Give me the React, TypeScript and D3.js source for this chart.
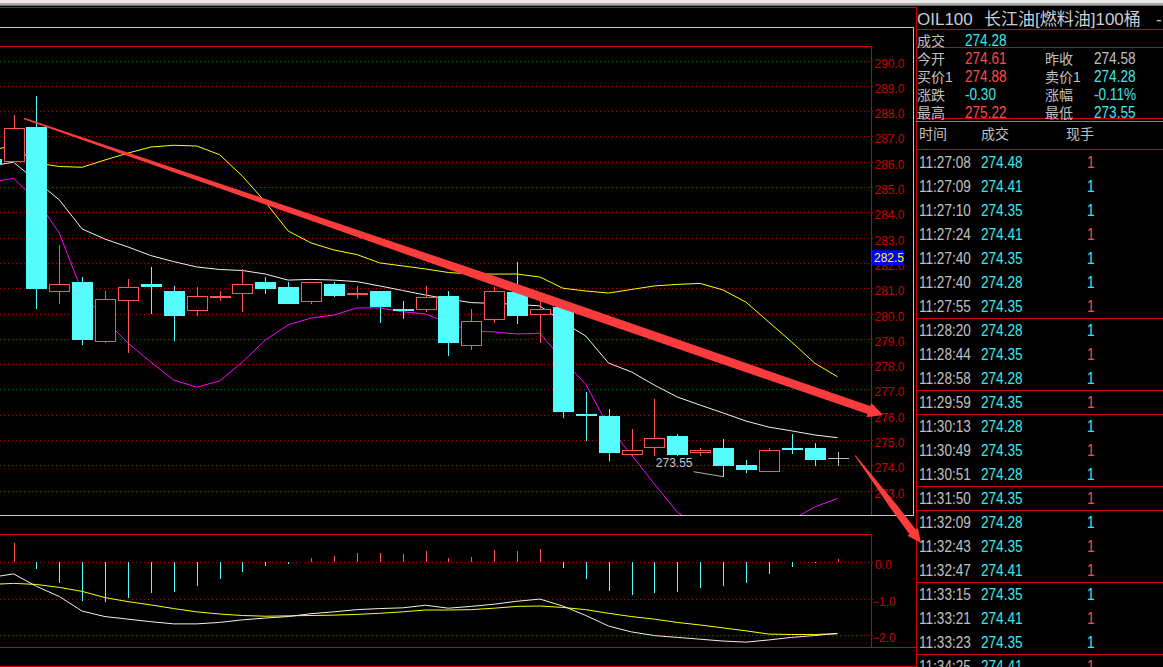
import React from "react";
import * as d3 from "d3";

// ---------- data ----------
const candleIndex = d3.range(-1, 37);
const opens = [286.11, 286.02, 287.37, 280.90, 281.25, 278.92, 280.52, 281.17, 280.89, 280.13, 280.66, 280.80, 281.25, 281.05, 280.51, 281.17, 280.80, 280.89, 280.19, 280.19, 280.69, 278.77, 279.79, 280.85, 279.99, 280.26, 276.04, 275.95, 274.43, 274.71, 275.17, 274.51, 274.68, 274.01, 273.79, 274.67, 274.68, 274.28];
const highs = [286.30, 287.85, 288.60, 282.71, 281.44, 280.89, 281.37, 281.84, 281.09, 281.05, 280.89, 281.75, 281.44, 281.26, 281.23, 281.26, 281.09, 280.89, 280.49, 281.09, 280.89, 280.18, 281.05, 282.04, 280.53, 280.26, 276.91, 276.23, 275.43, 276.63, 275.25, 274.70, 275.03, 274.21, 274.67, 275.24, 274.89, 274.54];
const lows = [285.85, 286.02, 280.19, 280.39, 278.77, 278.85, 278.45, 279.99, 278.92, 279.91, 280.51, 280.07, 280.78, 280.39, 280.39, 280.65, 280.57, 279.64, 279.79, 280.06, 278.33, 278.57, 279.64, 279.60, 278.85, 275.86, 274.97, 274.18, 274.38, 274.38, 274.37, 274.38, 273.55, 273.71, 273.79, 274.43, 273.98, 273.98];
const closes = [285.90, 287.33, 280.98, 281.15, 278.96, 280.57, 281.05, 281.05, 279.91, 280.69, 280.68, 281.15, 280.97, 280.39, 281.23, 280.70, 280.82, 280.27, 280.11, 280.64, 278.85, 279.70, 280.89, 279.91, 280.18, 276.12, 275.95, 274.50, 274.60, 275.07, 274.41, 274.60, 273.98, 273.81, 274.60, 274.62, 274.22, 274.28];

const bollUpper = [286.46, 286.62, 285.95, 285.81, 285.78, 286.07, 286.34, 286.58, 286.65, 286.62, 286.28, 285.43, 284.41, 283.26, 282.79, 282.51, 282.33, 282.00, 281.88, 281.76, 281.62, 281.56, 281.56, 281.56, 281.44, 281.00, 280.89, 280.81, 280.95, 281.09, 281.15, 281.19, 280.93, 280.45, 279.66, 278.87, 278.04, 277.50];
const bollMid = [285.83, 285.98, 285.24, 284.49, 283.34, 282.94, 282.63, 282.29, 282.05, 281.84, 281.74, 281.70, 281.56, 281.32, 281.35, 281.32, 281.26, 281.09, 280.91, 280.73, 280.57, 280.43, 280.40, 280.36, 280.30, 279.66, 279.11, 278.04, 277.69, 277.17, 276.70, 276.38, 276.07, 275.75, 275.51, 275.36, 275.20, 275.09];
const bollLower = [285.20, 285.34, 284.49, 283.18, 280.85, 279.74, 278.83, 278.08, 277.37, 277.09, 277.33, 278.08, 278.95, 279.55, 279.82, 279.94, 280.22, 280.22, 280.07, 279.98, 279.62, 279.31, 279.27, 279.19, 279.22, 278.16, 277.21, 275.51, 274.41, 273.26, 272.15, 271.56, 271.21, 271.05, 271.36, 271.84, 272.35, 272.69];

const macdHist = [0.60, 0.53, -0.19, -0.57, -1.06, -1.09, -0.98, -0.84, -0.82, -0.65, -0.46, -0.27, -0.10, -0.05, 0.12, 0.18, 0.26, 0.26, 0.23, 0.32, 0.12, 0.15, 0.33, 0.31, 0.36, -0.15, -0.46, -0.78, -0.90, -0.84, -0.82, -0.71, -0.65, -0.56, -0.32, -0.13, -0.02, 0.09];
const macdDif = [-0.42, -0.32, -0.66, -0.94, -1.34, -1.49, -1.56, -1.63, -1.69, -1.69, -1.65, -1.58, -1.53, -1.49, -1.41, -1.36, -1.30, -1.27, -1.25, -1.18, -1.26, -1.21, -1.15, -1.07, -1.01, -1.20, -1.46, -1.75, -1.91, -2.01, -2.06, -2.11, -2.16, -2.19, -2.13, -2.06, -2.01, -1.95];
const macdDea = [-0.61, -0.58, -0.61, -0.69, -0.80, -0.97, -1.08, -1.17, -1.27, -1.36, -1.42, -1.46, -1.48, -1.47, -1.46, -1.45, -1.43, -1.40, -1.36, -1.31, -1.31, -1.30, -1.26, -1.21, -1.20, -1.24, -1.30, -1.40, -1.49, -1.56, -1.65, -1.72, -1.80, -1.88, -1.97, -1.98, -1.98, -1.96];

const priceTicks = d3.range(273, 291);
const macdTicks = [0, -1, -2];
const cursorPrice = 282.5;
const lowCandle = 31;

// trend arrows in data coordinates [candle index, price]
const arrowMainFrom: [number, number] = [0.46, 287.71];
const arrowMainTo: [number, number] = [37.99, 275.99];
const arrowDownFrom: [number, number] = [36.77, 274.39];
const arrowDownTo: [number, number] = [39.65, 270.93];

// quote panel
const symbolCode = "OIL100";
const symbolName = "长江油[燃料油]100桶";
const lastLabel = "成交";
const lastValue = "274.28";
const quoteLeftLabels = ["今开", "买价1", "涨跌", "最高"];
const quoteLeftValues = ["274.61", "274.88", "-0.30", "275.22"];
const quoteLeftSide = ["up", "up", "down", "up"];
const quoteRightLabels = ["昨收", "卖价1", "涨幅", "最低"];
const quoteRightValues = ["274.58", "274.28", "-0.11%", "273.55"];
const quoteRightSide = ["flat", "down", "down", "down"];
const tradeHeaders = ["时间", "成交", "现手"];
const tradeTimes = ["11:27:08", "11:27:09", "11:27:10", "11:27:24", "11:27:40", "11:27:40", "11:27:55", "11:28:20", "11:28:44", "11:28:58", "11:29:59", "11:30:13", "11:30:49", "11:30:51", "11:31:50", "11:32:09", "11:32:43", "11:32:47", "11:33:15", "11:33:21", "11:33:23", "11:34:25"];
const tradePrices = [274.48, 274.41, 274.35, 274.41, 274.35, 274.28, 274.35, 274.28, 274.35, 274.28, 274.35, 274.28, 274.35, 274.28, 274.35, 274.28, 274.35, 274.41, 274.35, 274.41, 274.35, 274.41];
const tradeVols = [1, 1, 1, 1, 1, 1, 1, 1, 1, 1, 1, 1, 1, 1, 1, 1, 1, 1, 1, 1, 1, 1];
const tradeSide = ["up", "down", "down", "up", "down", "down", "up", "down", "up", "down", "up", "down", "up", "down", "up", "down", "up", "up", "down", "up", "down", "up"];

// ---------- styles ----------
const FONT = '"Liberation Sans", "Noto Sans CJK SC", sans-serif';
const CYAN = "#54fcfc";
const RED = "#ff5454";
const TXT_CYAN = "#3ce8e8";
const TXT_RED = "#ff4848";
const GRAY = "#c0c0c0";
const BORDER = "#cc0000";
const AXIS_TXT = "#c80000";
const GRID = "#b00000";
const ARROW = "#fa3c3c";

function sideColor(s: string) {
  return s === "up" ? TXT_RED : s === "down" ? TXT_CYAN : GRAY;
}

// condensed numeric text (tall, narrow digits as in the terminal font)
function Num(props: { x: number; y: number; fill: string; children: React.ReactNode }) {
  return (
    <text transform={`translate(${props.x},${props.y}) scale(0.85,1)`} fontSize={16} fill={props.fill}>
      {props.children}
    </text>
  );
}

function arrowPath(
  s: [number, number],
  t: [number, number],
  w0: number,
  wMid: number,
  tMid: number,
  wEnd: number,
  headLen: number,
  headW: number
) {
  const dx = t[0] - s[0], dy = t[1] - s[1];
  const L = Math.hypot(dx, dy);
  const ux = dx / L, uy = dy / L, nx = -uy, ny = ux;
  const bx = t[0] - ux * headLen, by = t[1] - uy * headLen;
  const mx = s[0] + dx * tMid, my = s[1] + dy * tMid;
  const P = (x: number, y: number, w: number): [number, number] => [x + nx * w, y + ny * w];
  const pts: [number, number][] = [
    P(s[0], s[1], w0), P(mx, my, wMid), P(bx, by, wEnd), P(bx, by, headW), [t[0], t[1]],
    P(bx, by, -headW), P(bx, by, -wEnd), P(mx, my, -wMid), P(s[0], s[1], -w0),
  ];
  return (d3.line()(pts) || "") + "Z";
}

export default function App() {
  const x = d3.scaleLinear().domain([0, 36]).range([13.5, 837.5]);
  const y = d3.scaleLinear().domain([273, 290]).range([490.6, 60.5]);
  const ym = d3.scaleLinear().domain([0, -2]).range([562.2, 635.2]);
  const f1 = d3.format(".1f");
  const f2 = d3.format(".2f");

  const px = (i: number) => Math.round(x(i));
  const pathOf = (vals: number[], sc: (v: number) => number) =>
    d3.line<number>().x((_, k) => x(candleIndex[k])).y((v) => sc(v))(vals) || "";

  const mainR = 871;
  const lowX = x(lowCandle);
  const lowY = y(lows[candleIndex.indexOf(lowCandle)]);

  const pt = (d: [number, number]): [number, number] => [x(d[0]), y(d[1])];

  const rowY = (k: number) => 161.5 + 24 * k;

  return (
    <div>
      <style>{"html,body{margin:0;padding:0;background:#000;overflow:hidden}"}</style>
      <svg width={1163} height={667} style={{ display: "block", background: "#000", fontFamily: FONT }}>
        <defs>
          <clipPath id="mainClip"><rect x={0} y={46} width={mainR} height={469} /></clipPath>
          <clipPath id="macdClip"><rect x={0} y={534} width={mainR} height={113} /></clipPath>
        </defs>

        {/* top window strip */}
        <rect x={0} y={0} width={1163} height={3} fill="#e8e8e8" />
        <rect x={0} y={3} width={1163} height={2} fill="#a8a8a8" />
        <rect x={0} y={5} width={1163} height={1} fill="#6a6a6a" />
        <line x1={0} x2={916} y1={7.5} y2={7.5} stroke={BORDER} />

        {/* frame lines */}
        <g shapeRendering="crispEdges">
          <line x1={0} x2={914} y1={27.5} y2={27.5} stroke="#c8c8c8" />
          <line x1={913.5} x2={913.5} y1={27} y2={515} stroke="#c8c8c8" />
          <line x1={0} x2={914} y1={515.5} y2={515.5} stroke="#c8c8c8" />
          <line x1={0} x2={mainR} y1={46.5} y2={46.5} stroke={BORDER} />
          <line x1={mainR + 0.5} x2={mainR + 0.5} y1={46} y2={515} stroke={BORDER} />
          <line x1={0} x2={mainR} y1={534.5} y2={534.5} stroke={BORDER} />
          <line x1={mainR + 0.5} x2={mainR + 0.5} y1={534} y2={647} stroke={BORDER} />
          <line x1={0} x2={916} y1={647.5} y2={647.5} stroke={BORDER} />
          <line x1={0} x2={916} y1={666.5} y2={666.5} stroke={BORDER} />
        </g>

        {/* price grid & axis */}
        <g shapeRendering="crispEdges">
          {priceTicks.map((t) => (
            <line key={"g" + t} x1={0} x2={876} y1={Math.round(y(t)) + 0.5} y2={Math.round(y(t)) + 0.5}
              stroke={GRID} strokeDasharray="1,3" />
          ))}
        </g>
        {priceTicks.map((t) => (
          <text key={"t" + t} x={874.5} y={y(t) + 7} fontSize={12} fill={AXIS_TXT}>{f1(t)}</text>
        ))}
        <rect x={872} y={y(cursorPrice)} width={32} height={15} fill="#0000ff" />
        <text x={874} y={y(cursorPrice) + 12} fontSize={12} fill="#ffff00">{f1(cursorPrice)}</text>

        {/* bollinger lines */}
        <g clipPath="url(#mainClip)" fill="none" strokeWidth={1}>
          <path d={pathOf(bollUpper, y)} stroke="#ffff00" />
          <path d={pathOf(bollMid, y)} stroke="#f0f0f0" />
          <path d={pathOf(bollLower, y)} stroke="#ff00ff" />
        </g>

        {/* candles */}
        <g clipPath="url(#mainClip)" shapeRendering="crispEdges">
          {candleIndex.map((ci, k) => {
            const o = opens[k], c = closes[k], h = highs[k], l = lows[k];
            const cx = px(ci);
            const wx = cx + 0.5;
            if (c === o) {
              const yy = Math.round(y(o)) + 0.5;
              return (
                <g key={k} stroke={GRAY}>
                  <line x1={wx} x2={wx} y1={y(h)} y2={y(l)} />
                  <line x1={cx - 10} x2={cx + 11} y1={yy} y2={yy} />
                </g>
              );
            }
            const top = y(Math.max(o, c));
            const bot = y(Math.min(o, c));
            if (c > o) {
              const rt = Math.round(top), rb = Math.round(bot);
              return (
                <g key={k} stroke={RED}>
                  <line x1={wx} x2={wx} y1={y(h)} y2={rt} />
                  <line x1={wx} x2={wx} y1={rb} y2={y(l)} />
                  <rect x={cx - 9.5} y={rt + 0.5} width={20} height={Math.max(rb - rt, 1)} fill="#000" />
                </g>
              );
            }
            return (
              <g key={k}>
                <line x1={wx} x2={wx} y1={y(h)} y2={y(l)} stroke={CYAN} />
                <rect x={cx - 10} y={top} width={21} height={Math.max(bot - top, 2)} fill={CYAN} />
              </g>
            );
          })}
        </g>

        {/* low marker */}
        <text x={lowX - 30.5} y={lowY - 9.5} fontSize={12} fill="#c8c8d0" textAnchor="end">{f2(lows[candleIndex.indexOf(lowCandle)])}</text>
        <line x1={lowX - 29.5} y1={lowY - 5} x2={lowX} y2={lowY} stroke="#b0b0b0" />

        {/* MACD */}
        <g shapeRendering="crispEdges">
          {macdTicks.map((t) => (
            <line key={"mg" + t} x1={0} x2={876} y1={Math.round(ym(t)) + 0.5} y2={Math.round(ym(t)) + 0.5}
              stroke={GRID} strokeDasharray="1,3" />
          ))}
        </g>
        {macdTicks.map((t) => (
          <text key={"mt" + t} x={t < 0 ? 872 : 875} y={ym(t) + 7} fontSize={12} fill={AXIS_TXT}>{f1(t)}</text>
        ))}
        <g clipPath="url(#macdClip)" shapeRendering="crispEdges">
          {candleIndex.map((ci, k) => (
            <line key={"h" + k} x1={px(ci) + 0.5} x2={px(ci) + 0.5} y1={ym(0)} y2={ym(macdHist[k])}
              stroke={macdHist[k] >= 0 ? RED : CYAN} />
          ))}
        </g>
        <g clipPath="url(#macdClip)" fill="none">
          <path d={pathOf(macdDea, ym)} stroke="#ffff00" />
          <path d={pathOf(macdDif, ym)} stroke="#f0f0f0" />
        </g>

        {/* right quote panel */}
        <g shapeRendering="crispEdges">
          <line x1={916.5} x2={916.5} y1={7} y2={667} stroke={BORDER} />
          <line x1={916} x2={1163} y1={29.5} y2={29.5} stroke={BORDER} />
          <line x1={916} x2={1163} y1={47.5} y2={47.5} stroke={BORDER} />
          <line x1={916} x2={1163} y1={118.5} y2={118.5} stroke={BORDER} />
          <line x1={916} x2={1163} y1={121.5} y2={121.5} stroke="#808080" />
          <line x1={916} x2={1163} y1={149.5} y2={149.5} stroke={BORDER} />
          {tradeTimes.map((t, k) =>
            k < tradeTimes.length - 1 && t.slice(0, 5) !== tradeTimes[k + 1].slice(0, 5) ? (
              <line key={"sep" + k} x1={916} x2={1163} y1={Math.round(rowY(k) + 12) + 0.5} y2={Math.round(rowY(k) + 12) + 0.5} stroke={BORDER} />
            ) : null
          )}
        </g>
        <text y={25} fontSize={17} fill="#c8ccd8">
          <tspan x={917}>{symbolCode}</tspan>
          <tspan x={984}>{symbolName}</tspan>
          <tspan x={1156}>-</tspan>
        </text>
        <g fontSize={14}>
          <text x={917} y={46} fill={GRAY}>{lastLabel}</text>
          <Num x={965} y={46} fill={TXT_CYAN}>{lastValue}</Num>
          {quoteLeftLabels.map((lb, k) => (
            <g key={"q" + k}>
              <text x={917} y={64 + 18 * k} fill={GRAY}>{lb}</text>
              <Num x={965} y={64 + 18 * k} fill={sideColor(quoteLeftSide[k])}>{quoteLeftValues[k]}</Num>
              <text x={1045} y={64 + 18 * k} fill={GRAY}>{quoteRightLabels[k]}</text>
              <Num x={1094} y={64 + 18 * k} fill={sideColor(quoteRightSide[k])}>{quoteRightValues[k]}</Num>
            </g>
          ))}
          <text x={919} y={139} fill={GRAY}>{tradeHeaders[0]}</text>
          <text x={981} y={139} fill={GRAY}>{tradeHeaders[1]}</text>
          <text x={1066} y={139} fill={GRAY}>{tradeHeaders[2]}</text>
          {tradeTimes.map((t, k) => (
            <g key={"r" + k}>
              <Num x={919} y={rowY(k) + 6} fill={GRAY}>{t}</Num>
              <Num x={981} y={rowY(k) + 6} fill={TXT_CYAN}>{f2(tradePrices[k])}</Num>
              <Num x={1087} y={rowY(k) + 6} fill={sideColor(tradeSide[k])}>{tradeVols[k]}</Num>
            </g>
          ))}
        </g>

        {/* trend arrows */}
        <path d={arrowPath(pt(arrowMainFrom), pt(arrowMainTo), 0.8, 4.5, 0.55, 4.2, 15, 7.5)} fill={ARROW} />
        <path d={arrowPath(pt(arrowDownFrom), pt(arrowDownTo), 0.5, 3.5, 0.6, 4, 14, 6.5)} fill={ARROW} />
      </svg>
    </div>
  );
}
